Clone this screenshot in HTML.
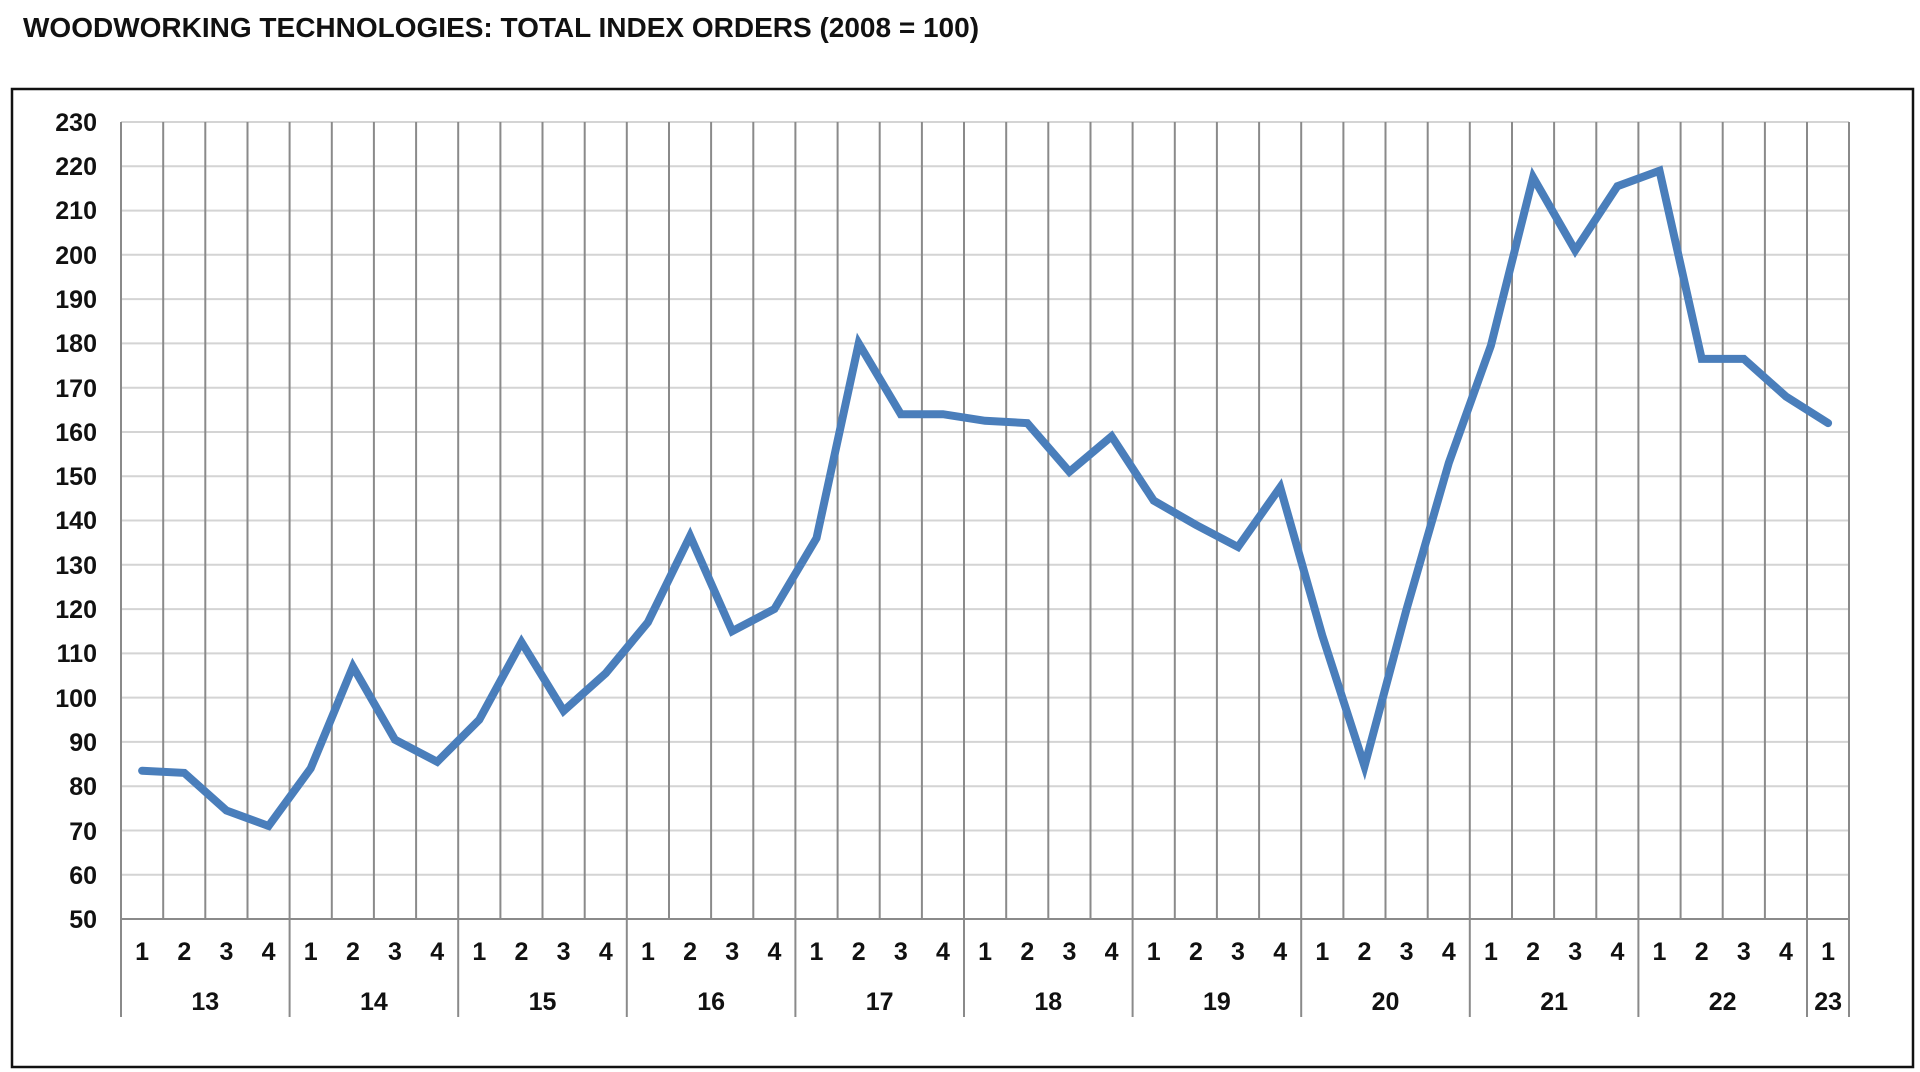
<!DOCTYPE html>
<html><head><meta charset="utf-8"><style>
html,body{margin:0;padding:0;background:#fff;}
svg{display:block;font-family:"Liberation Sans",Arial,sans-serif;font-weight:bold;}
</style></head><body>
<svg width="1920" height="1072" viewBox="0 0 1920 1072" xmlns="http://www.w3.org/2000/svg">
<text x="23" y="37" font-size="28" fill="#111">WOODWORKING TECHNOLOGIES: TOTAL INDEX ORDERS (2008 = 100)</text>
<rect x="12" y="89" width="1901" height="978" fill="none" stroke="#111" stroke-width="2.5"/>
<path stroke="#d4d4d4" stroke-width="2" fill="none" d="M121 122H1849M121 166.3H1849M121 210.6H1849M121 254.8H1849M121 299.1H1849M121 343.4H1849M121 387.7H1849M121 432H1849M121 476.2H1849M121 520.5H1849M121 564.8H1849M121 609.1H1849M121 653.4H1849M121 697.6H1849M121 741.9H1849M121 786.2H1849M121 830.5H1849M121 874.8H1849"/>
<path stroke="#8a8a8a" stroke-width="2" fill="none" d="M163.2 122V919M205.3 122V919M247.5 122V919M331.8 122V919M373.9 122V919M416.1 122V919M500.4 122V919M542.5 122V919M584.7 122V919M669 122V919M711.1 122V919M753.3 122V919M837.6 122V919M879.7 122V919M921.9 122V919M1006.2 122V919M1048.3 122V919M1090.5 122V919M1174.8 122V919M1216.9 122V919M1259.1 122V919M1343.4 122V919M1385.5 122V919M1427.7 122V919M1512 122V919M1554.1 122V919M1596.3 122V919M1680.6 122V919M1722.7 122V919M1764.9 122V919M121 122V1017M289.6 122V1017M458.2 122V1017M626.8 122V1017M795.4 122V1017M964 122V1017M1132.6 122V1017M1301.2 122V1017M1469.8 122V1017M1638.4 122V1017M1807 122V1017M1849 122V1017M121 919H1849"/>
<g font-size="25" fill="#111" text-anchor="end">
<text x="97" y="131">230</text><text x="97" y="175">220</text><text x="97" y="219">210</text><text x="97" y="264">200</text><text x="97" y="308">190</text><text x="97" y="352">180</text><text x="97" y="397">170</text><text x="97" y="441">160</text><text x="97" y="485">150</text><text x="97" y="529">140</text><text x="97" y="574">130</text><text x="97" y="618">120</text><text x="97" y="662">110</text><text x="97" y="707">100</text><text x="97" y="751">90</text><text x="97" y="795">80</text><text x="97" y="840">70</text><text x="97" y="884">60</text><text x="97" y="928">50</text>
</g>
<g font-size="25" fill="#111" text-anchor="middle">
<text x="142.1" y="960">1</text><text x="184.3" y="960">2</text><text x="226.4" y="960">3</text><text x="268.6" y="960">4</text>
<text x="310.7" y="960">1</text><text x="352.9" y="960">2</text><text x="395" y="960">3</text><text x="437.2" y="960">4</text>
<text x="479.3" y="960">1</text><text x="521.5" y="960">2</text><text x="563.6" y="960">3</text><text x="605.8" y="960">4</text>
<text x="647.9" y="960">1</text><text x="690.1" y="960">2</text><text x="732.2" y="960">3</text><text x="774.4" y="960">4</text>
<text x="816.5" y="960">1</text><text x="858.7" y="960">2</text><text x="900.8" y="960">3</text><text x="943" y="960">4</text>
<text x="985.1" y="960">1</text><text x="1027.3" y="960">2</text><text x="1069.4" y="960">3</text><text x="1111.6" y="960">4</text>
<text x="1153.7" y="960">1</text><text x="1195.9" y="960">2</text><text x="1238" y="960">3</text><text x="1280.2" y="960">4</text>
<text x="1322.3" y="960">1</text><text x="1364.5" y="960">2</text><text x="1406.6" y="960">3</text><text x="1448.8" y="960">4</text>
<text x="1490.9" y="960">1</text><text x="1533.1" y="960">2</text><text x="1575.2" y="960">3</text><text x="1617.4" y="960">4</text>
<text x="1659.5" y="960">1</text><text x="1701.7" y="960">2</text><text x="1743.8" y="960">3</text><text x="1786" y="960">4</text>
<text x="1828.1" y="960">1</text>
<text x="205.3" y="1010">13</text><text x="373.9" y="1010">14</text><text x="542.5" y="1010">15</text><text x="711.1" y="1010">16</text><text x="879.7" y="1010">17</text><text x="1048.3" y="1010">18</text><text x="1216.9" y="1010">19</text><text x="1385.5" y="1010">20</text><text x="1554.1" y="1010">21</text><text x="1722.7" y="1010">22</text><text x="1828.1" y="1010">23</text>
</g>
<polyline fill="none" stroke="#4a7ebb" stroke-width="8" stroke-linejoin="miter" stroke-linecap="round" points="142.1,770.7 184.3,772.9 226.4,810.5 268.6,826 310.7,768.4 352.9,666.6 395,739.7 437.2,761.8 479.3,719.7 521.5,642.2 563.6,710.9 605.8,673.2 647.9,622.3 690.1,536 732.2,631.2 774.4,609 816.5,538.2 858.7,343.4 900.8,414.2 943,414.2 985.1,420.8 1027.3,423.1 1069.4,471.8 1111.6,436.3 1153.7,500.6 1195.9,524.9 1238,547 1280.2,487.3 1322.3,635.6 1364.5,766.2 1406.6,609 1448.8,462.9 1490.9,345.6 1533.1,177.3 1575.2,250.4 1617.4,186.2 1659.5,170.7 1701.7,358.9 1743.8,358.9 1786,396.5 1828.1,423.1"/>
</svg>
</body></html>
